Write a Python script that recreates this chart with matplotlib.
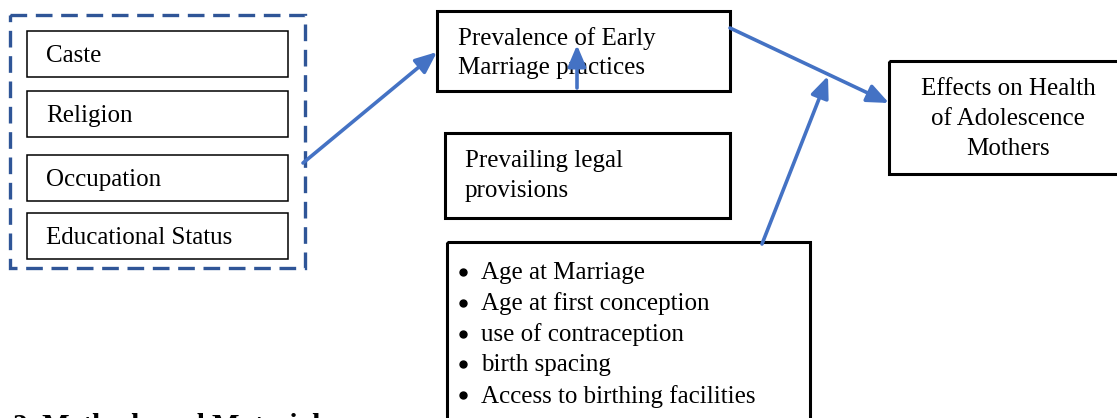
import matplotlib.pyplot as plt
from matplotlib.patches import Rectangle

# labels of the diagram
factors = ["Caste", "Religion", "Occupation", "Educational Status"]
prevalence_text = "Prevalence of Early\nMarriage practices"
legal_text = "Prevailing legal\nprovisions"
effects_text = "Effects on Health\nof Adolescence\nMothers"
bullets = ["Age at Marriage", "Age at first conception", "use of contraception",
           "birth spacing", "Access to birthing facilities"]
heading = "2. Methods and Materials"

plt.rcParams['font.family'] = ['Liberation Serif', 'DejaVu Serif']

fig = plt.figure(figsize=(11.17, 4.18), dpi=100)
ax = fig.add_axes([0, 0, 1, 1])
ax.set_xlim(0, 1117)
ax.set_ylim(418, 0)
ax.axis('off')

fs = 18
ls = 1.45
blue = '#4472C4'
dark_blue = '#2F5597'


def box(x0, y0, x1, y1, lw=2.2, **kw):
    ax.add_patch(Rectangle((x0, y0), x1 - x0, y1 - y0, fill=False,
                           edgecolor='black', linewidth=lw, **kw))


# dashed group with factor boxes
ax.add_patch(Rectangle((10, 15), 295, 253, fill=False, edgecolor=dark_blue,
                       linewidth=2.4, linestyle=(0, (5, 2.6))))
factor_y = [31, 91, 155, 213]
for lab, y in zip(factors, factor_y):
    box(27, y, 288, y + 46, lw=1.1)
    ax.text(46, y + 25, lab, fontsize=fs, va='center', ha='left')

# prevalence box
box(437, 11, 730, 91)
ax.text(458, 53, prevalence_text, fontsize=fs, va='center', ha='left',
        linespacing=ls)

# legal provisions box
box(445, 133, 730, 218)
ax.text(465, 176, legal_text, fontsize=fs, va='center', ha='left',
        linespacing=ls)

# bullet box (runs off the bottom)
box(447, 242, 810, 440)
for i, b in enumerate(bullets):
    y = 271 + i * 30.8
    ax.plot(463, y + 1, 'o', color='black', markersize=5)
    ax.text(481, y + 2, b, fontsize=fs, va='center', ha='left')

# effects box (runs off the right)
box(889, 61, 1130, 174)
ax.text(1008, 119, effects_text, fontsize=fs, va='center', ha='center',
        linespacing=ls)

# arrows
arrow_kw = dict(arrowstyle='-|>,head_length=1.3,head_width=0.55',
                color=blue, lw=2.6, shrinkA=0, shrinkB=0)
ax.annotate('', xy=(437, 52), xytext=(303, 163), arrowprops=arrow_kw)
ax.annotate('', xy=(577, 45), xytext=(577, 88), arrowprops=arrow_kw)
ax.annotate('', xy=(889, 103), xytext=(730, 28), arrowprops=arrow_kw)
ax.annotate('', xy=(828, 76), xytext=(762, 244), arrowprops=arrow_kw)

# section heading cut by the bottom edge
ax.text(13, 413, heading, fontsize=21, fontweight='bold', va='top',
        ha='left')

fig.savefig('out.png', dpi=100)
